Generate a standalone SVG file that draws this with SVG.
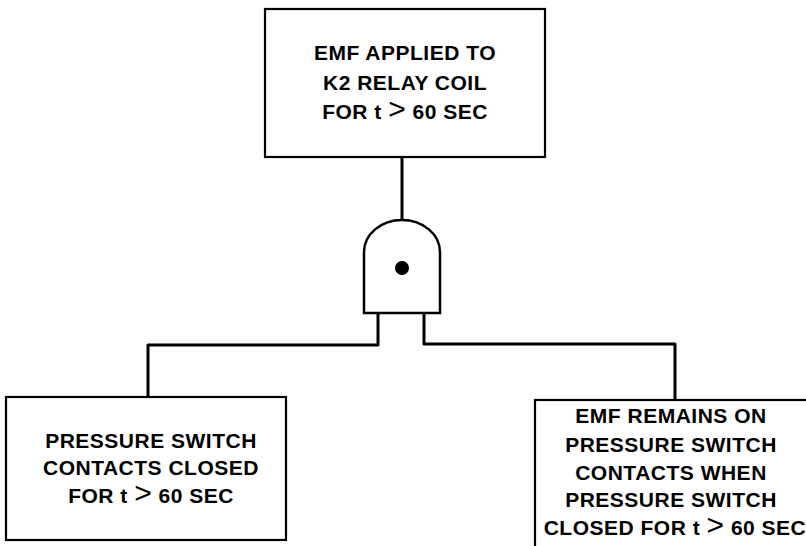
<svg xmlns="http://www.w3.org/2000/svg" width="806" height="546" viewBox="0 0 806 546">
<style>
.box{fill:#fff;stroke:#000;stroke-width:2.2}
.wire{fill:none;stroke:#000;stroke-width:3;stroke-linejoin:round}
.t{font-family:"Liberation Sans",Arial,sans-serif;font-weight:bold;font-size:21px;text-anchor:middle;fill:#000;letter-spacing:0.5px}
.gt{font-weight:normal;font-size:30px}
</style>
<rect width="806" height="546" fill="#fff"/>
<g id="connectors">
<path class="wire" d="M402,157 V221"/>
<path class="wire" d="M378,313 V345 H148 V397"/>
<path class="wire" d="M424,313 V344 H675 V400"/>
</g>
<g id="top">
<rect class="box" x="265" y="9" width="280" height="148"/>
<text class="t" x="405" y="60">EMF APPLIED TO</text>
<text class="t" x="405" y="90">K2 RELAY COIL</text>
<text class="t" x="405" y="119">FOR t <tspan class="gt">&gt;</tspan> 60 SEC</text>
</g>
<g id="and-gate">
<path fill="#fff" stroke="#000" stroke-width="2.5" d="M364,313 V252 A38,32 0 0 1 440,252 V313 Z"/>
<circle cx="402" cy="268" r="7" fill="#000"/>
</g>
<g id="left">
<rect class="box" x="6" y="397" width="280" height="143"/>
<text class="t" x="151" y="448">PRESSURE SWITCH</text>
<text class="t" x="151" y="475">CONTACTS CLOSED</text>
<text class="t" x="151" y="503">FOR t <tspan class="gt">&gt;</tspan> 60 SEC</text>
</g>
<g id="right">
<rect class="box" x="535" y="400" width="290" height="170"/>
<text class="t" x="671" y="423">EMF REMAINS ON</text>
<text class="t" x="671" y="452">PRESSURE SWITCH</text>
<text class="t" x="671" y="480">CONTACTS WHEN</text>
<text class="t" x="671" y="507">PRESSURE SWITCH</text>
<text class="t" x="675" y="535">CLOSED FOR t <tspan class="gt">&gt;</tspan> 60 SEC</text>
</g>
</svg>
